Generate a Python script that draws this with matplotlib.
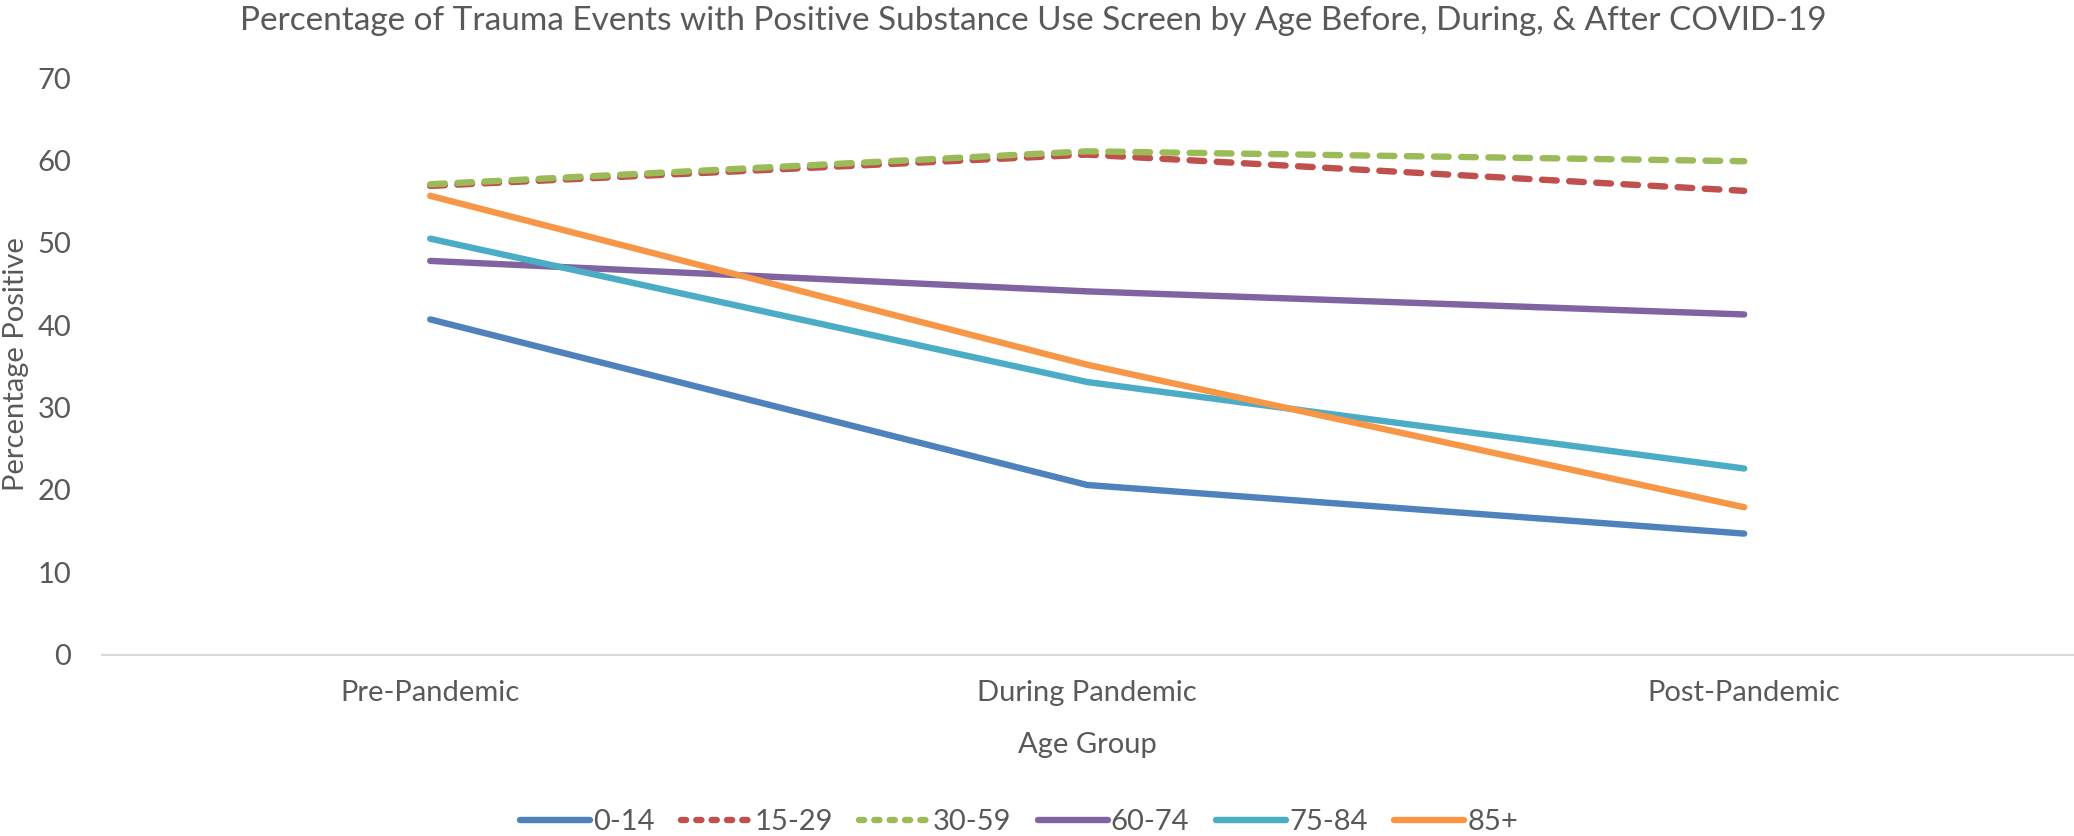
import matplotlib
matplotlib.use("Agg")
import matplotlib.pyplot as plt
from matplotlib.lines import Line2D

plt.rcParams['font.family'] = ['Lato', 'DejaVu Sans']

# Study periods and percentage of trauma events with a positive screen
periods = ["Pre-Pandemic", "During Pandemic", "Post-Pandemic"]
age_groups = ["0-14", "15-29", "30-59", "60-74", "75-84", "85+"]
pct_0_14 = [40.7, 20.6, 14.7]
pct_15_29 = [56.9, 60.7, 56.3]
pct_30_59 = [57.1, 61.1, 59.9]
pct_60_74 = [47.8, 44.1, 41.3]
pct_75_84 = [50.5, 33.1, 22.6]
pct_85_plus = [55.7, 35.2, 17.9]
y_ticks = [0, 10, 20, 30, 40, 50, 60, 70]

series = [pct_0_14, pct_15_29, pct_30_59, pct_60_74, pct_75_84, pct_85_plus]
colors = ["#4F81BD", "#C0504D", "#9BBB59", "#8064A2", "#4BACC6", "#F79646"]
dashed = [False, True, True, False, False, False]

text_color = "#595959"
fs = 21
W, H = 2074, 836
fig = plt.figure(figsize=(W / 100, H / 100), dpi=100)
ax = fig.add_axes([101.7 / W, 1 - 654.7 / H, 1971 / W, (654.7 - 78) / H])

xs = [i + 0.5 for i in range(len(periods))]
lw = 4.6
for vals, col, dsh, name in zip(series, colors, dashed, age_groups):
    line, = ax.plot(xs, vals, color=col, lw=lw, solid_capstyle="round",
                    dash_capstyle="round", solid_joinstyle="round", label=name)
    if dsh:
        line.set_dashes((2.3, 1.95))

ax.set_xlim(0, 3)
ax.set_ylim(0, 70)
ax.set_yticks(y_ticks)
ax.set_yticklabels([str(t) for t in y_ticks])
ax.set_xticks(xs)
ax.set_xticklabels(periods)
ax.tick_params(axis="both", length=0, labelsize=fs, colors=text_color)
ax.tick_params(axis="y", pad=22)
ax.tick_params(axis="x", pad=18)
for s in ["top", "right", "left"]:
    ax.spines[s].set_visible(False)
ax.spines["bottom"].set_color("#D9D9D9")
ax.spines["bottom"].set_linewidth(1.5)

fig.text(0.498, 1 - 21 / H, "Percentage of Trauma Events with Positive Substance Use Screen by Age Before, During, & After COVID-19",
         ha="center", va="center", fontsize=24, color=text_color)
fig.text(16 / W, 1 - 364 / H, "Percentage Positive", rotation=90, ha="center", va="center",
         fontsize=fs, color=text_color)
fig.text(1087 / W, 1 - 745 / H, "Age Group", ha="center", va="center", fontsize=fs, color=text_color)

handles = []
for col, dsh, name in zip(colors, dashed, age_groups):
    h = Line2D([], [], color=col, lw=lw, solid_capstyle="round", dash_capstyle="round", label=name)
    if dsh:
        h.set_dashes((0.8, 1.6))
    handles.append(h)
leg = fig.legend(handles=handles, loc="center", bbox_to_anchor=(1019 / W, 1 - 822 / H), ncol=6,
                 frameon=False, fontsize=fs, handlelength=2.4, handletextpad=0.1, columnspacing=0.92)
for t in leg.get_texts():
    t.set_color(text_color)

fig.savefig("out.png", dpi=100)
